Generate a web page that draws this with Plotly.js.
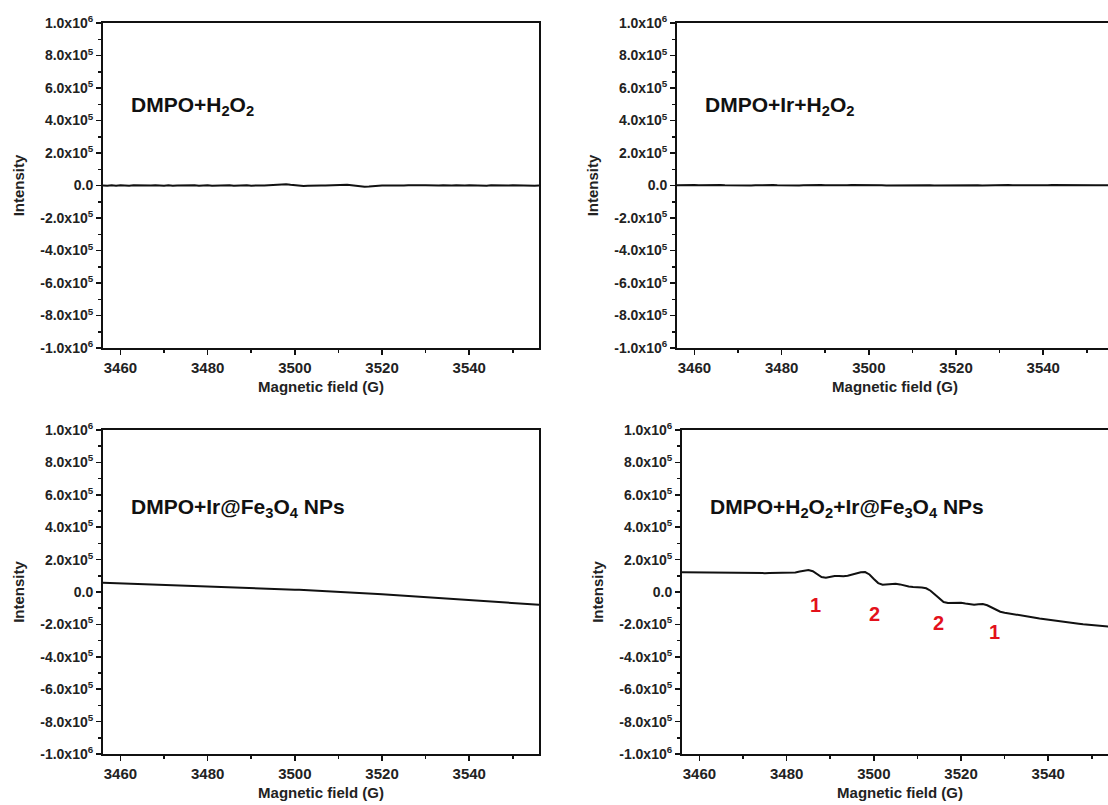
<!DOCTYPE html>
<html>
<head>
<meta charset="utf-8">
<script src="https://cdn.plot.ly/plotly-3.0.1.min.js"></script>
<style>
  html, body { margin: 0; padding: 0; overflow: hidden; background: #fff; }
  #chart { width: 1125px; height: 805px; }
</style>
</head>
<body>
<div id="chart"></div>
<script>
// EPR spectra, field axis sampled every 1 G from 3456 G to 3556 G
const fieldStart = 3456;
const fieldStep = 1;

// DMPO + H2O2
const dmpoH2O2 = [
  0, -2000, 1000, -1000, 2000, 0, -1500, 1500, 500, -1000,
  1500, -500, 2000, 0, -1000, 1000, -2000, 500, 1500, -500,
  0, 1000, -1500, 500, 2000, -1000, 0, 1500, -500, 1000,
  -1500, 500, 0, 1000, -1000, 1500, 500, -500, 2000, 3000,
  5000, 7000, 8000, 4000, 1000, -1500, -3000, -2000, 0, -1000,
  500, -500, 1000, 2000, 3000, 4000, 5000, 2000, -2000, -5000,
  -7000, -6000, -3000, -1000, 500, 0, -1000, 1000, 500, -500,
  1500, 0, -1000, 1000, 2000, 0, -1000, 500, 1000, -500,
  0, 1500, -1000, 500, 1000, -500, 1500, 0, -1000, 1000,
  500, -1500, 1000, 0, 2000, 500, -500, 1000, 0, -1000,
  500
];

// DMPO + Ir + H2O2
const dmpoIrH2O2 = [
  1000, 2000, 0, 1500, 2500, 1000, 2000, 3000, 1500, 2000,
  3000, 2000, 1000, 2500, 1500, 2000, 1000, 0, 1500, 2500,
  1000, 2000, 3000, 1500, 500, 1000, 2000, 1000, 0, 1500,
  2500, 1500, 2000, 3500, 2000, 1000, 0, 1000, 2000, 1500,
  2500, 3000, 2000, 1000, 1500, 2500, 3500, 2000, 500, 1000,
  2000, 1500, 500, 1500, 2500, 3000, 2000, 1000, 1500, 500,
  1000, 2000, 1500, 2500, 3000, 2000, 1000, 1500, 2500, 1500,
  500, 1500, 2000, 1000, 2000, 3000, 2500, 1500, 1000, 2000,
  3000, 2000, 1500, 2500, 1000, 2000, 3000, 2500, 1500, 2000,
  1000, 2000, 3000, 2000, 1500, 2500, 1000, 2000, 1500, 2500,
  2000
];

// DMPO + Ir@Fe3O4 NPs
const dmpoIrFe3O4 = [
  57000, 56100, 55200, 54300, 53400, 52500, 51600, 50700, 49800, 48900,
  48000, 47100, 46200, 45300, 44400, 43500, 42600, 41700, 40800, 39900,
  39000, 38100, 37200, 36300, 35300, 34300, 33300, 32300, 31300, 30300,
  29300, 28300, 27300, 26300, 25300, 24300, 23300, 22200, 21100, 20000,
  18900, 17800, 16700, 15600, 14500, 13400, 12200, 11000, 9800, 8600,
  7300, 6000, 4700, 3300, 1900, 500, -1000, -2500, -4000, -5600,
  -7200, -8800, -10500, -12200, -13900, -15600, -17300, -19000, -20800, -22600,
  -24400, -26200, -28000, -29800, -31600, -33400, -35200, -37000, -38800, -40600,
  -42400, -44200, -46000, -47800, -49600, -51400, -53200, -55000, -56800, -58600,
  -60400, -62200, -64000, -65800, -67600, -69400, -71200, -73000, -74800, -76600,
  -78400
];

// DMPO + H2O2 + Ir@Fe3O4 NPs (DMPO-OH quartet on a sloping baseline)
const dmpoH2O2IrFe3O4 = [
  122000, 121500, 121000, 121500, 120000, 120500, 119500, 119000, 119500, 118500,
  118000, 118500, 117500, 117000, 117500, 117000, 116500, 117000, 117500, 116500,
  117000, 118000, 117500, 118000, 118500, 119000, 121000, 127000, 133000, 136000,
  128000, 110000, 92000, 88000, 94000, 98000, 99000, 97000, 100000, 106000,
  116000, 122000, 123000, 108000, 80000, 55000, 45000, 46000, 50000, 51000,
  47000, 40000, 34000, 31000, 30000, 28000, 23000, 8000, -16000, -42000,
  -62000, -68000, -66000, -64000, -66000, -71000, -77000, -79000, -75000, -74000,
  -82000, -96000, -111000, -122000, -128000, -132000, -135000, -139000, -144000, -149000,
  -154000, -159000, -164000, -168000, -172000, -176000, -180000, -184000, -187000, -190000,
  -193000, -196000, -199000, -202000, -205000, -207000, -209000, -211000, -213000, -215000,
  -217000
];

// Quartet line markers (field, intensity, label)
const peakFields = [3486.6, 3500.2, 3514.8, 3527.7];
const peakLevels = [-80000, -136000, -191000, -247000];
const peakLabels = ['1', '2', '2', '1'];

// Sample names
const sampleNames = [
  'DMPO+H<sub>2</sub>O<sub>2</sub>',
  'DMPO+Ir+H<sub>2</sub>O<sub>2</sub>',
  'DMPO+Ir@Fe<sub>3</sub>O<sub>4</sub> NPs',
  'DMPO+H<sub>2</sub>O<sub>2</sub>+Ir@Fe<sub>3</sub>O<sub>4</sub> NPs'
];

// Axis ticks
const yTickVals = [1e6, 8e5, 6e5, 4e5, 2e5, 0, -2e5, -4e5, -6e5, -8e5, -1e6];
const yTickText = [
  '1.0x10<sup>6</sup>', '8.0x10<sup>5</sup>', '6.0x10<sup>5</sup>', '4.0x10<sup>5</sup>',
  '2.0x10<sup>5</sup>', '0.0', '-2.0x10<sup>5</sup>', '-4.0x10<sup>5</sup>',
  '-6.0x10<sup>5</sup>', '-8.0x10<sup>5</sup>', '-1.0x10<sup>6</sup>'
];
const xLabel = 'Magnetic field (G)';
const yLabel = 'Intensity';

const fieldAxis = dmpoH2O2.map((_, i) => fieldStart + i * fieldStep);
const series = [dmpoH2O2, dmpoIrH2O2, dmpoIrFe3O4, dmpoH2O2IrFe3O4];

const W = 1125, H = 805;
const FONT = 'Liberation Sans, Arial, sans-serif';
// Panel boxes in pixels: [left, right, top, bottom]
const boxes = [
  [103, 539, 23, 348],
  [677, 1113, 23, 348],
  [103, 539, 430, 754],
  [682, 1118, 430, 754]
];

const traces = series.map((ys, i) => ({
  type: 'scatter', mode: 'lines',
  x: fieldAxis, y: ys,
  xaxis: i === 0 ? 'x' : 'x' + (i + 1),
  yaxis: i === 0 ? 'y' : 'y' + (i + 1),
  line: { color: '#111', width: 2 },
  hoverinfo: 'skip'
}));

const layout = {
  width: W, height: H,
  margin: { l: 0, r: 0, t: 0, b: 0 },
  showlegend: false,
  paper_bgcolor: '#fff', plot_bgcolor: '#fff',
  font: { family: FONT, color: '#111' },
  annotations: []
};

boxes.forEach((b, i) => {
  const n = i === 0 ? '' : String(i + 1);
  layout['xaxis' + n] = {
    domain: [b[0] / W, b[1] / W],
    anchor: 'y' + n,
    range: [3456, 3556],
    tick0: 3460, dtick: 20,
    ticks: 'outside', ticklen: 5, tickwidth: 1.5, tickcolor: '#111',
    minor: { tick0: 3450, dtick: 10, ticks: 'outside', ticklen: 3, tickwidth: 1.5, tickcolor: '#111' },
    showline: true, linewidth: 2, linecolor: '#111', mirror: true,
    showgrid: false, zeroline: false,
    tickfont: { family: FONT, size: 15, weight: 'bold', color: '#222' },
    title: { text: xLabel, font: { family: FONT, size: 15, weight: 'bold', color: '#222' }, standoff: 6 }
  };
  layout['yaxis' + n] = {
    domain: [1 - b[3] / H, 1 - b[2] / H],
    anchor: 'x' + n,
    range: [-1e6, 1e6],
    tickmode: 'array', tickvals: yTickVals, ticktext: yTickText,
    ticks: 'outside', ticklen: 5, tickwidth: 1.5, tickcolor: '#111',
    minor: { tick0: 1e5, dtick: 2e5, ticks: 'outside', ticklen: 3, tickwidth: 1.5, tickcolor: '#111' },
    showline: true, linewidth: 2, linecolor: '#111', mirror: true,
    showgrid: false, zeroline: false,
    tickfont: { family: FONT, size: 14, weight: 'bold', color: '#222' },
    title: { text: yLabel, font: { family: FONT, size: 15, weight: 'bold', color: '#222' }, standoff: 12 }
  };
  layout.annotations.push({
    xref: 'x' + n, yref: 'y' + n,
    x: 3462, y: i < 2 ? 490000 : 520000,
    xanchor: 'left', yanchor: 'middle',
    text: sampleNames[i], showarrow: false,
    font: { family: FONT, size: 21, weight: 'bold', color: '#111' }
  });
});

peakFields.forEach((f, i) => {
  layout.annotations.push({
    xref: 'x4', yref: 'y4', x: f, y: peakLevels[i],
    text: peakLabels[i], showarrow: false,
    xanchor: 'center', yanchor: 'middle',
    font: { family: FONT, size: 20, weight: 'bold', color: '#e3111b' }
  });
});

Plotly.newPlot('chart', traces, layout, { displayModeBar: false, staticPlot: true });
</script>
</body>
</html>
